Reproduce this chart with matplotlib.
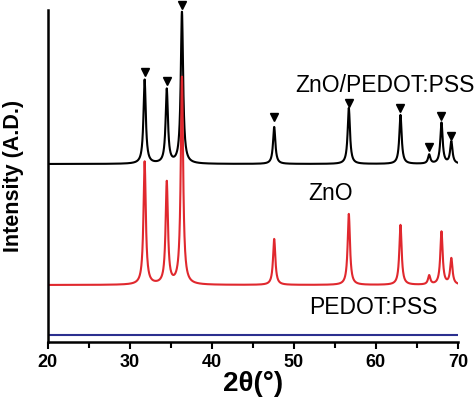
import numpy as np
import matplotlib.pyplot as plt

plt.rcParams['font.family'] = ['Liberation Sans', 'DejaVu Sans']

# peak positions (2theta)
peak_pos = [31.8, 34.5, 36.35, 47.6, 56.7, 63.0, 66.5, 68.0, 69.2]
# peak heights above baseline (arbitrary units)
zno_pedot_heights = [84, 74, 152, 37, 56, 49, 9, 41, 22]
zno_heights = [123, 102, 208, 46, 71, 60, 9, 53, 26]
# baselines (offsets of the stacked traces)
zno_pedot_base = 178
zno_base = 57
pedot_base = 7
# marker heights for the triangles above ZnO/PEDOT:PSS peaks
marker_y = [270, 261, 337, 225, 239, 234, 195, 226, 206]

x = np.linspace(20, 70, 2501)


def pattern(heights, base, width=0.17):
    y = np.full_like(x, float(base))
    for p, h in zip(peak_pos, heights):
        y += h / (1 + ((x - p) / width) ** 2)
    return y


fig = plt.figure(figsize=(4.74, 4.0), dpi=100)
ax = fig.add_axes([0.101, 0.145, 0.865, 0.83])

ax.plot(x, pattern(zno_pedot_heights, zno_pedot_base), color='black', lw=1.5)
ax.plot(x, pattern(zno_heights, zno_base), color='#e0282e', lw=1.5)
pedot = np.full_like(x, float(pedot_base))
ax.plot(x, pedot, color='#2b2f8f', lw=1.5)

ax.plot(peak_pos, marker_y, linestyle='none', marker='v', color='black',
        markersize=6, clip_on=False)

ax.text(50.2, 257, 'ZnO/PEDOT:PSS', fontsize=16.5, ha='left', va='center',
        clip_on=False)
ax.text(51.8, 149, 'ZnO', fontsize=16.5, ha='left', va='center')
ax.text(51.8, 34, 'PEDOT:PSS', fontsize=16.5, ha='left', va='center')

ax.set_xlim(20, 70)
ax.set_ylim(0, 332)
ax.set_xticks(range(20, 71, 10))
ax.set_xticks(range(25, 70, 10), minor=True)
ax.set_yticks([])
ax.tick_params(axis='x', which='major', direction='out', length=5, width=1.5,
               labelsize=13)
ax.tick_params(axis='x', which='minor', direction='out', length=4, width=1.5)
for lab in ax.get_xticklabels():
    lab.set_fontweight('bold')

ax.spines['top'].set_visible(False)
ax.spines['right'].set_visible(False)
ax.spines['left'].set_linewidth(1.8)
ax.spines['bottom'].set_linewidth(1.8)

ax.set_xlabel('2θ(°)', fontsize=20, fontweight='bold', labelpad=0)
ax.set_ylabel('Intensity (A.D.)', fontsize=15.5, fontweight='bold', labelpad=17)

fig.savefig('out.png', dpi=100)
